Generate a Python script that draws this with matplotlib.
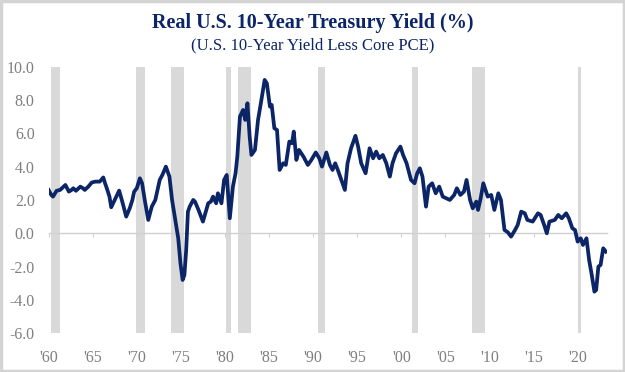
import matplotlib
matplotlib.use('Agg')
import matplotlib.pyplot as plt
from matplotlib.patches import Rectangle

# Real 10-yr yield (10-yr yield less core PCE)
years = [1960.0, 1960.3, 1960.5, 1960.9, 1961.3, 1961.6, 1961.9, 1962.3, 1962.6, 1962.8,
         1963.1, 1963.6, 1963.9, 1964.1, 1964.5, 1964.9, 1965.3, 1965.8, 1966.2, 1966.4,
         1966.6, 1966.9, 1967.1, 1967.5, 1968.0, 1968.3, 1968.6, 1968.8, 1969.2, 1969.5,
         1969.7, 1970.0, 1970.35, 1970.6, 1970.9, 1971.3, 1971.7, 1972.1, 1972.6, 1972.9,
         1973.3, 1973.7, 1974.0, 1974.3, 1974.7, 1974.95, 1975.2, 1975.4, 1975.6, 1975.8,
         1976.0, 1976.4, 1976.6, 1977.0, 1977.5, 1978.1, 1978.4, 1978.65, 1979.0, 1979.2,
         1979.6, 1979.9, 1980.2, 1980.35, 1980.55, 1980.9, 1981.2, 1981.4, 1981.7, 1982.05,
         1982.3, 1982.55, 1982.8, 1983.0, 1983.4, 1983.75, 1984.1, 1984.5, 1984.75, 1985.1,
         1985.3, 1985.6, 1985.9, 1986.2, 1986.6, 1986.9, 1987.3, 1987.6, 1987.8, 1988.1,
         1988.4, 1988.9, 1989.4, 1989.8, 1990.3, 1990.7, 1991.0, 1991.5, 1991.9, 1992.2,
         1992.5, 1992.8, 1993.2, 1993.6, 1993.9, 1994.3, 1994.8, 1995.1, 1995.45, 1995.95,
         1996.4, 1996.8, 1997.15, 1997.5, 1997.9, 1998.3, 1998.7, 1999.0, 1999.4, 1999.9,
         2000.2, 2000.6, 2001.1, 2001.5, 2001.8, 2002.1, 2002.4, 2002.8, 2003.1, 2003.5,
         2003.9, 2004.3, 2004.7, 2005.1, 2005.5, 2006.0, 2006.3, 2006.7, 2007.1, 2007.4,
         2007.8, 2008.1, 2008.5, 2008.7, 2009.0, 2009.3, 2009.8, 2010.2, 2010.55, 2011.0,
         2011.3, 2011.7, 2012.1, 2012.45, 2012.9, 2013.2, 2013.6, 2014.0, 2014.3, 2014.9,
         2015.5, 2015.8, 2016.2, 2016.5, 2016.8, 2017.4, 2017.8, 2018.2, 2018.7, 2019.0,
         2019.4, 2019.7, 2020.0, 2020.35, 2020.6, 2021.0, 2021.3, 2021.6, 2021.9, 2022.1,
         2022.35, 2022.6, 2022.9, 2023.2]
real_yield = [2.6, 2.3, 2.2, 2.55, 2.6, 2.75, 2.9, 2.5, 2.6, 2.7,
              2.55, 2.8, 2.7, 2.6, 2.8, 3.05, 3.1, 3.1, 3.35, 3.0,
              2.7, 2.2, 1.56, 2.0, 2.56, 2.0, 1.4, 1.0, 1.5, 2.0,
              2.5, 2.7, 3.3, 3.0, 2.0, 0.8, 1.6, 2.0, 3.2, 3.5,
              4.0, 3.4, 2.0, 1.0, -0.3, -1.8, -2.8, -2.5, -1.0, 1.3,
              1.6, 2.0, 1.9, 1.4, 0.7, 1.8, 1.9, 2.2, 1.8, 2.4,
              1.8, 3.2, 3.5, 2.4, 0.9, 2.8, 3.6, 4.6, 7.0, 7.4,
              6.8, 7.8, 5.8, 4.7, 5.0, 6.8, 7.9, 9.2, 9.0, 7.6,
              7.7, 6.3, 6.2, 3.8, 4.2, 4.1, 5.5, 5.4, 6.1, 4.4,
              5.0, 4.6, 4.1, 4.4, 4.85, 4.5, 4.0, 4.85, 4.1, 3.8,
              4.2, 3.8, 3.2, 2.6, 4.2, 5.1, 5.85, 5.2, 4.2, 3.6,
              5.1, 4.5, 4.9, 4.5, 4.7, 4.2, 3.4, 4.2, 4.8, 5.2,
              4.7, 4.2, 3.2, 3.0, 3.6, 3.9, 3.4, 1.6, 2.8, 3.0,
              2.4, 2.8, 2.2, 2.1, 2.0, 2.3, 2.7, 2.3, 2.5, 3.2,
              2.0, 1.5, 1.9, 1.4, 2.1, 3.0, 2.2, 2.3, 1.4, 2.4,
              2.0, 0.2, 0.05, -0.2, 0.2, 0.5, 1.3, 1.2, 0.8, 0.7,
              1.2, 1.1, 0.5, 0.0, 0.7, 0.8, 1.1, 0.9, 1.2, 0.9,
              0.3, 0.2, -0.5, -0.3, -0.7, -0.3, -1.6, -2.5, -3.5, -3.4,
              -2.0, -1.9, -0.9, -1.1]

# recession periods (shaded)
rec_start = [1960.3, 1969.9, 1973.9, 1980.1, 1981.5, 1990.5, 2001.2, 2008.0, 2020.0]
rec_end = [1961.3, 1970.9, 1975.3, 1980.7, 1983.0, 1991.3, 2001.9, 2009.5, 2020.4]

tick_years = list(range(1960, 2021, 5))
tick_labels = ["'" + str(y)[2:] for y in tick_years]
y_ticks = [-6, -4, -2, 0, 2, 4, 6, 8, 10]

navy = '#0b2566'
gray_txt = '#7f7f7f'
serif = ['Liberation Serif', 'DejaVu Serif']

fig = plt.figure(figsize=(6.25, 3.72), dpi=100)
ax = fig.add_axes([0.0778, 0.104, 0.893, 0.717])

for s, e in zip(rec_start, rec_end):
    ax.axvspan(s, e, color='#d9d9d9', lw=0, zorder=0)

ax.plot(years, real_yield, color=navy, lw=2.7, zorder=3)

ax.set_xlim(1960, 2023.3)
ax.set_ylim(-6, 10)
ax.set_yticks(y_ticks)
ax.set_yticklabels([f'{v:.1f}' for v in y_ticks], family=serif, fontsize=11.5, color=gray_txt)
ax.set_xticks(tick_years)
ax.set_xticklabels(tick_labels, family=serif, fontsize=11.5, color=gray_txt)
ax.tick_params(axis='both', length=0)
ax.tick_params(axis='x', pad=12)
ax.tick_params(axis='y', pad=10)
for sp in ax.spines.values():
    sp.set_visible(False)

# zero line with small tick marks
zero_ax = ax.secondary_xaxis(6 / 16)
zero_ax.set_xticks(tick_years)
zero_ax.set_xticklabels([])
zero_ax.tick_params(direction='out', length=3, width=0.8, color='#d0d0d0')
zero_ax.spines['bottom'].set_color('#d0d0d0')
zero_ax.spines['bottom'].set_linewidth(1.0)

fig.text(0.5, 0.938, 'Real U.S. 10-Year Treasury Yield (%)', ha='center', va='center',
         family=serif, fontsize=14.5, fontweight='bold', color=navy)
fig.text(0.5, 0.879, '(U.S. 10-Year Yield Less Core PCE)', ha='center', va='center',
         family=serif, fontsize=12, color=navy)

fig.patches.append(Rectangle((0.002, 0.003), 0.996, 0.994, transform=fig.transFigure,
                             fill=False, edgecolor='#d4d4d4', lw=2.5))

fig.savefig('out.png', dpi=100)
